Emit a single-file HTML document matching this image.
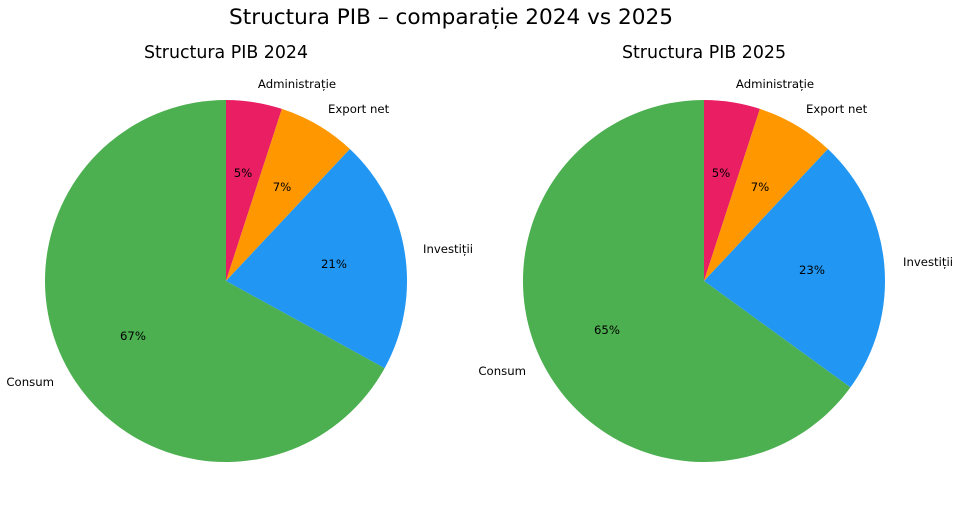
<!DOCTYPE html>
<html><head><meta charset="utf-8"><style>
html,body{margin:0;padding:0;background:#fff;}
svg text{font-family:"DejaVu Sans","Liberation Sans",sans-serif;fill:#000;}
</style></head><body>
<svg width="960" height="506" viewBox="0 0 960 506" xmlns="http://www.w3.org/2000/svg">
<text x="451" y="24" font-size="21.6" text-anchor="middle">Structura PIB – comparație 2024 vs 2025</text>
<text x="226" y="58" font-size="17.4" text-anchor="middle">Structura PIB 2024</text>
<text x="704" y="58" font-size="17.4" text-anchor="middle">Structura PIB 2025</text>

<g>
<path d="M226,281 L226,100 A181,181 0 0 1 281.9,108.9 Z" fill="#e91e63"/>
<path d="M226,281 L281.9,108.9 A181,181 0 0 1 349.9,149 Z" fill="#ff9800"/>
<path d="M226,281 L349.9,149 A181,181 0 0 1 384.6,368.2 Z" fill="#2196f3"/>
<path d="M226,281 L384.6,368.2 A181,181 0 1 1 226,100 Z" fill="#4caf50"/>
</g>
<g font-size="11.7">
<text x="243" y="177" text-anchor="middle">5%</text>
<text x="282" y="191" text-anchor="middle">7%</text>
<text x="334" y="268" text-anchor="middle">21%</text>
<text x="133" y="340" text-anchor="middle">67%</text>
<text x="297" y="88" text-anchor="middle">Administrație</text>
<text x="328" y="113">Export net</text>
<text x="423" y="253">Investiții</text>
<text x="54" y="386" text-anchor="end">Consum</text>
</g>

<g>
<path d="M704,281 L704,100 A181,181 0 0 1 759.9,108.9 Z" fill="#e91e63"/>
<path d="M704,281 L759.9,108.9 A181,181 0 0 1 827.9,149 Z" fill="#ff9800"/>
<path d="M704,281 L827.9,149 A181,181 0 0 1 850.4,387.4 Z" fill="#2196f3"/>
<path d="M704,281 L850.4,387.4 A181,181 0 1 1 704,100 Z" fill="#4caf50"/>
</g>
<g font-size="11.7">
<text x="721" y="177" text-anchor="middle">5%</text>
<text x="760" y="191" text-anchor="middle">7%</text>
<text x="812" y="274" text-anchor="middle">23%</text>
<text x="607" y="334" text-anchor="middle">65%</text>
<text x="775" y="88" text-anchor="middle">Administrație</text>
<text x="806" y="113">Export net</text>
<text x="903" y="266">Investiții</text>
<text x="526" y="375" text-anchor="end">Consum</text>
</g>
</svg>
</body></html>
